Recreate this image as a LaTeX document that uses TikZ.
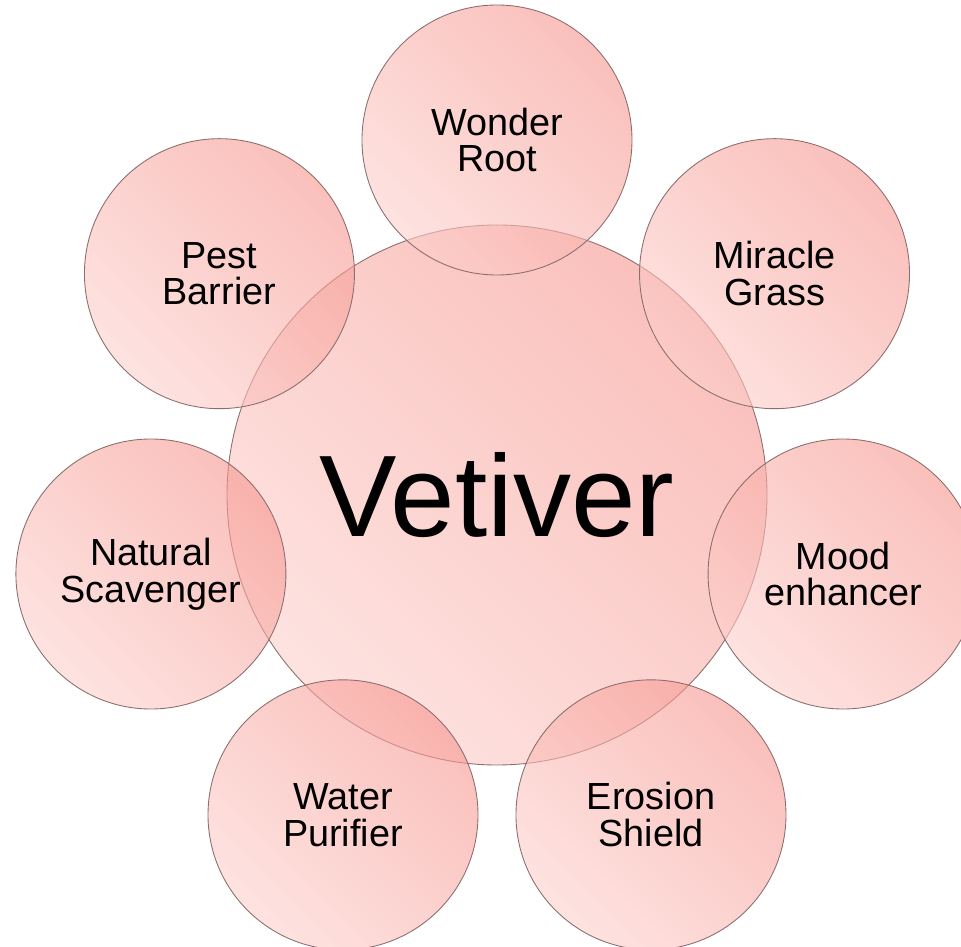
\documentclass[tikz,border=0pt]{standalone}
\usepackage{fontspec}
\setmainfont{Liberation Sans}
\definecolor{petaldark}{RGB}{247,150,143}
\definecolor{petallight}{RGB}{252,208,204}
\definecolor{petalline}{RGB}{140,110,110}
\begin{document}
\begin{tikzpicture}[
        petal/.style={circle, draw=petalline, line width=0.5pt, minimum size=5.4cm, inner sep=0pt,
            top color=petaldark, bottom color=petallight, shading angle=-45, fill opacity=0.6,
            text opacity=1, font=\fontsize{21.5}{21}\selectfont, align=center},
        hub/.style={petal, minimum size=10.8cm, font=\fontsize{66}{66}\selectfont}
    ]
        \useasboundingbox (-9.94,-9.04) rectangle (9.28,9.90);

        % Centre circle
        \node[hub] (Vetiver) at (0,0) {Vetiver};

        % Surrounding circles (clockwise from the top)
        \node[petal] (Wonder) at (90:7.1) {Wonder\\Root};
        \node[petal] (Miracle) at (38.57:7.1) {Miracle\\Grass};
        \node[petal] (Mood) at (-12.86:7.1) {Mood\\enhancer};
        \node[petal] (Erosion) at (-64.29:7.1) {Erosion\\Shield};
        \node[petal] (Water) at (-115.71:7.1) {Water\\Purifier};
        \node[petal] (Scavenger) at (-167.14:7.1) {Natural\\Scavenger};
        \node[petal] (Pest) at (141.43:7.1) {Pest\\Barrier};
    \end{tikzpicture}
\end{document}
